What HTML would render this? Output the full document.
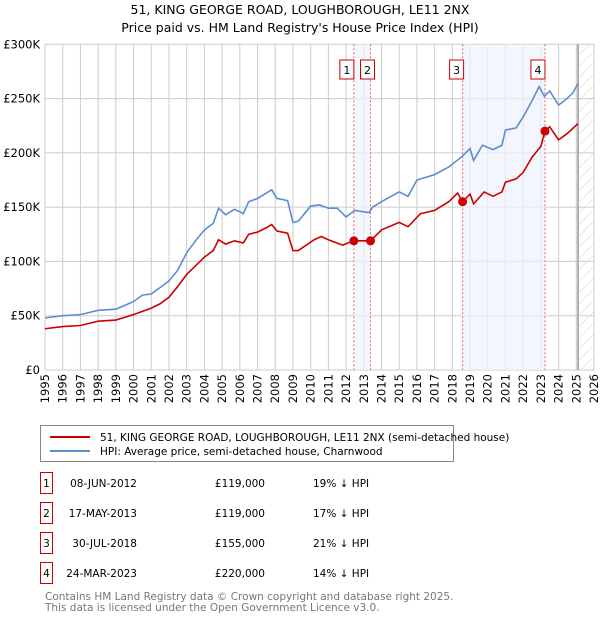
<!DOCTYPE html>
<html><head><meta charset="utf-8"><style>
body{margin:0;background:#fff;width:600px;height:620px;overflow:hidden;font-family:"DejaVu Sans","Liberation Sans",sans-serif}
svg text{font-family:"DejaVu Sans","Liberation Sans",sans-serif}
</style></head><body>
<svg id="chart" width="600" height="620" xmlns="http://www.w3.org/2000/svg">
<text x="300" y="14" text-anchor="middle" font-size="12.5">51, KING GEORGE ROAD, LOUGHBOROUGH, LE11 2NX</text>
<text x="300" y="32" text-anchor="middle" font-size="12.5">Price paid vs. HM Land Registry's House Price Index (HPI)</text>
<g id="grid"></g><g id="shade"></g><g id="lines"></g><g id="marks"></g>
<rect x="40.5" y="425.5" width="413" height="36" fill="#fff" stroke="#888"/>
<line x1="50" y1="437" x2="90" y2="437" stroke="#cc0000" stroke-width="2"/>
<text x="100" y="441" font-size="10.5">51, KING GEORGE ROAD, LOUGHBOROUGH, LE11 2NX (semi-detached house)</text>
<line x1="50" y1="451" x2="90" y2="451" stroke="#5b8ed0" stroke-width="2"/>
<text x="100" y="455" font-size="10.5">HPI: Average price, semi-detached house, Charnwood</text>
<g id="table" font-size="10.5"></g>
<text x="45" y="600" font-size="10.5" fill="#777">Contains HM Land Registry data © Crown copyright and database right 2025.</text>
<text x="45" y="611" font-size="10.5" fill="#777">This data is licensed under the Open Government Licence v3.0.</text>
</svg>
<script>
const hpiYears=[1995,1996,1997,1998,1999,2000,2000.5,2001,2001.5,2002,2002.5,2003,2003.5,2004,2004.5,2004.8,2005.2,2005.7,2006.2,2006.5,2007,2007.5,2007.8,2008.1,2008.7,2009.0,2009.3,2010,2010.5,2011,2011.5,2012,2012.5,2013.3,2013.5,2014,2015,2015.5,2016,2017,2017.8,2018.5,2019.0,2019.2,2019.7,2020.3,2020.8,2021.0,2021.6,2022,2022.5,2022.9,2023.2,2023.5,2024.0,2024.4,2024.8,2025.1];
const hpiValues=[48,50,51,55,56,63,69,70,76,82,92,108,119,129,135,149,143,148,144,155,158,163,166,158,156,136,137,151,152,149,149,141,147,145,150,155,164,160,175,180,187,196,204,193,207,203,207,221,223,233,248,261,252,257,244,249,255,264];
const priceYears=[1995,1996,1997,1998,1999,2000,2001,2001.5,2002,2002.5,2003,2003.5,2004,2004.5,2004.8,2005.2,2005.7,2006.2,2006.5,2007,2007.5,2007.8,2008.1,2008.7,2009.0,2009.3,2010.2,2010.6,2011,2011.8,2012.44,2013.0,2013.38,2014,2015,2015.5,2016.2,2017,2017.8,2018.3,2018.58,2019.0,2019.2,2019.8,2020.3,2020.8,2021.0,2021.6,2022.0,2022.5,2023.0,2023.23,2023.5,2024.0,2024.5,2025.1];
const priceValues=[38,40,41,45,46,51,57,61,67,77,88,96,104,110,120,116,119,117,125,127,131,134,128,126,110,110,120,123,120,115,119,119,119,129,136,132,144,147,155,163,155,162,153,164,160,164,173,176,182,196,206,220,224,212,218,227];
const saleYears=[2012.44,2013.38,2018.58,2023.23];
const saleValues=[119,119,155,220];
const saleLabels=["1","2","3","4"];
const saleDates=["08-JUN-2012","17-MAY-2013","30-JUL-2018","24-MAR-2023"];
const salePrices=["£119,000","£119,000","£155,000","£220,000"];
const saleDiffs=["19% ↓ HPI","17% ↓ HPI","21% ↓ HPI","14% ↓ HPI"];
const yTicks=[0,50,100,150,200,250,300];
const yTickLabels=["£0","£50K","£100K","£150K","£200K","£250K","£300K"];
const xTicks=[1995,1996,1997,1998,1999,2000,2001,2002,2003,2004,2005,2006,2007,2008,2009,2010,2011,2012,2013,2014,2015,2016,2017,2018,2019,2020,2021,2022,2023,2024,2025,2026];
const X0=45,X1=594,Y0=370,Y1=44.3;
const x=y=>X0+(y-1995)/31*(X1-X0);
const yv=v=>Y0-v/300*(Y0-Y1);
const NS="http://www.w3.org/2000/svg";
function mk(p,t,a){const e=document.createElementNS(NS,t);for(const k in a)e.setAttribute(k,a[k]);p.appendChild(e);return e;}
const grid=document.getElementById('grid');
const defs=mk(document.getElementById('chart'),'defs',{});
const pat=mk(defs,'pattern',{id:'hatch',width:8,height:8,patternUnits:'userSpaceOnUse',patternTransform:'rotate(45)'});
mk(pat,'line',{x1:0,y1:0,x2:0,y2:8,stroke:'#d0d0d0','stroke-width':1});
const shade=document.getElementById('shade');
const hr=mk(shade,'rect',{x:x(2025.1),y:Y1,width:X1-x(2025.1),height:Y0-Y1,fill:'url(#hatch)'});

const s1=mk(shade,'rect',{x:x(saleYears[0]),y:Y1,width:x(saleYears[1])-x(saleYears[0]),height:Y0-Y1,fill:'#eef3fc',opacity:0.7});

const s2=mk(shade,'rect',{x:x(saleYears[2]),y:Y1,width:x(saleYears[3])-x(saleYears[2]),height:Y0-Y1,fill:'#eef3fc',opacity:0.7});

yTicks.forEach((t,i)=>{
 const l=mk(grid,'line',{x1:X0,x2:X1,y1:yv(t),y2:yv(t),stroke:'#ccc'});
 
 const tx=mk(grid,'text',{x:40,y:yv(t)+4,'text-anchor':'end','font-size':'11.5'});tx.textContent=yTickLabels[i];
 
});
xTicks.forEach(t=>{
 const l=mk(grid,'line',{x1:x(t),x2:x(t),y1:Y1,y2:Y0,stroke:'#ccc'});
 
 const tx=mk(grid,'text',{x:0,y:0,'text-anchor':'end','font-size':'11.5',transform:`translate(${x(t)+4},374) rotate(-90)`});tx.textContent=t;
 
});
const vl=mk(grid,'line',{x1:x(2025.1),x2:x(2025.1),y1:Y1,y2:Y0,stroke:'#999','stroke-width':1.5});

const lines=document.getElementById('lines');
const hp=mk(lines,'polyline',{points:hpiYears.map((t,i)=>x(t)+','+yv(hpiValues[i])).join(' '),fill:'none',stroke:'#5b8ed0','stroke-width':1.6});

const pp=mk(lines,'polyline',{points:priceYears.map((t,i)=>x(t)+','+yv(priceValues[i])).join(' '),fill:'none',stroke:'#cc0000','stroke-width':1.6});

const marks=document.getElementById('marks');
const boxOff=[-4,0,-3,-4];
saleYears.forEach((t,i)=>{
 const d=mk(marks,'line',{x1:x(t),x2:x(t),y1:Y1,y2:Y0,stroke:'#e66','stroke-dasharray':'2,2'});
 
 const c=mk(marks,'circle',{cx:x(t),cy:yv(saleValues[i]),r:4.5,fill:'#cc0000'});
 
 const bx=x(t)-10+boxOff[i];
 const b=mk(marks,'rect',{x:bx,y:60,width:14,height:19,fill:'#fff',stroke:'#cc0000'});
 
 const bt=mk(marks,'text',{x:bx+7,y:74,'text-anchor':'middle','font-size':'11'});bt.textContent=saleLabels[i];
 
});
const tb=document.getElementById('table');
saleLabels.forEach((l,i)=>{
 const cy=483+i*30;
 const r=mk(tb,'rect',{x:40.5,y:cy-10.5,width:12,height:21,fill:'#fff',stroke:'#cc0000'});
 
 const t0=mk(tb,'text',{x:46.5,y:cy+4,'text-anchor':'middle'});t0.textContent=l;
 
 const t1=mk(tb,'text',{x:137,y:cy+4,'text-anchor':'end'});t1.textContent=saleDates[i];
 
 const t2=mk(tb,'text',{x:265,y:cy+4,'text-anchor':'end'});t2.textContent=salePrices[i];
 
 const t3=mk(tb,'text',{x:313,y:cy+4});t3.textContent=saleDiffs[i];
 
});
</script>
</body></html>
